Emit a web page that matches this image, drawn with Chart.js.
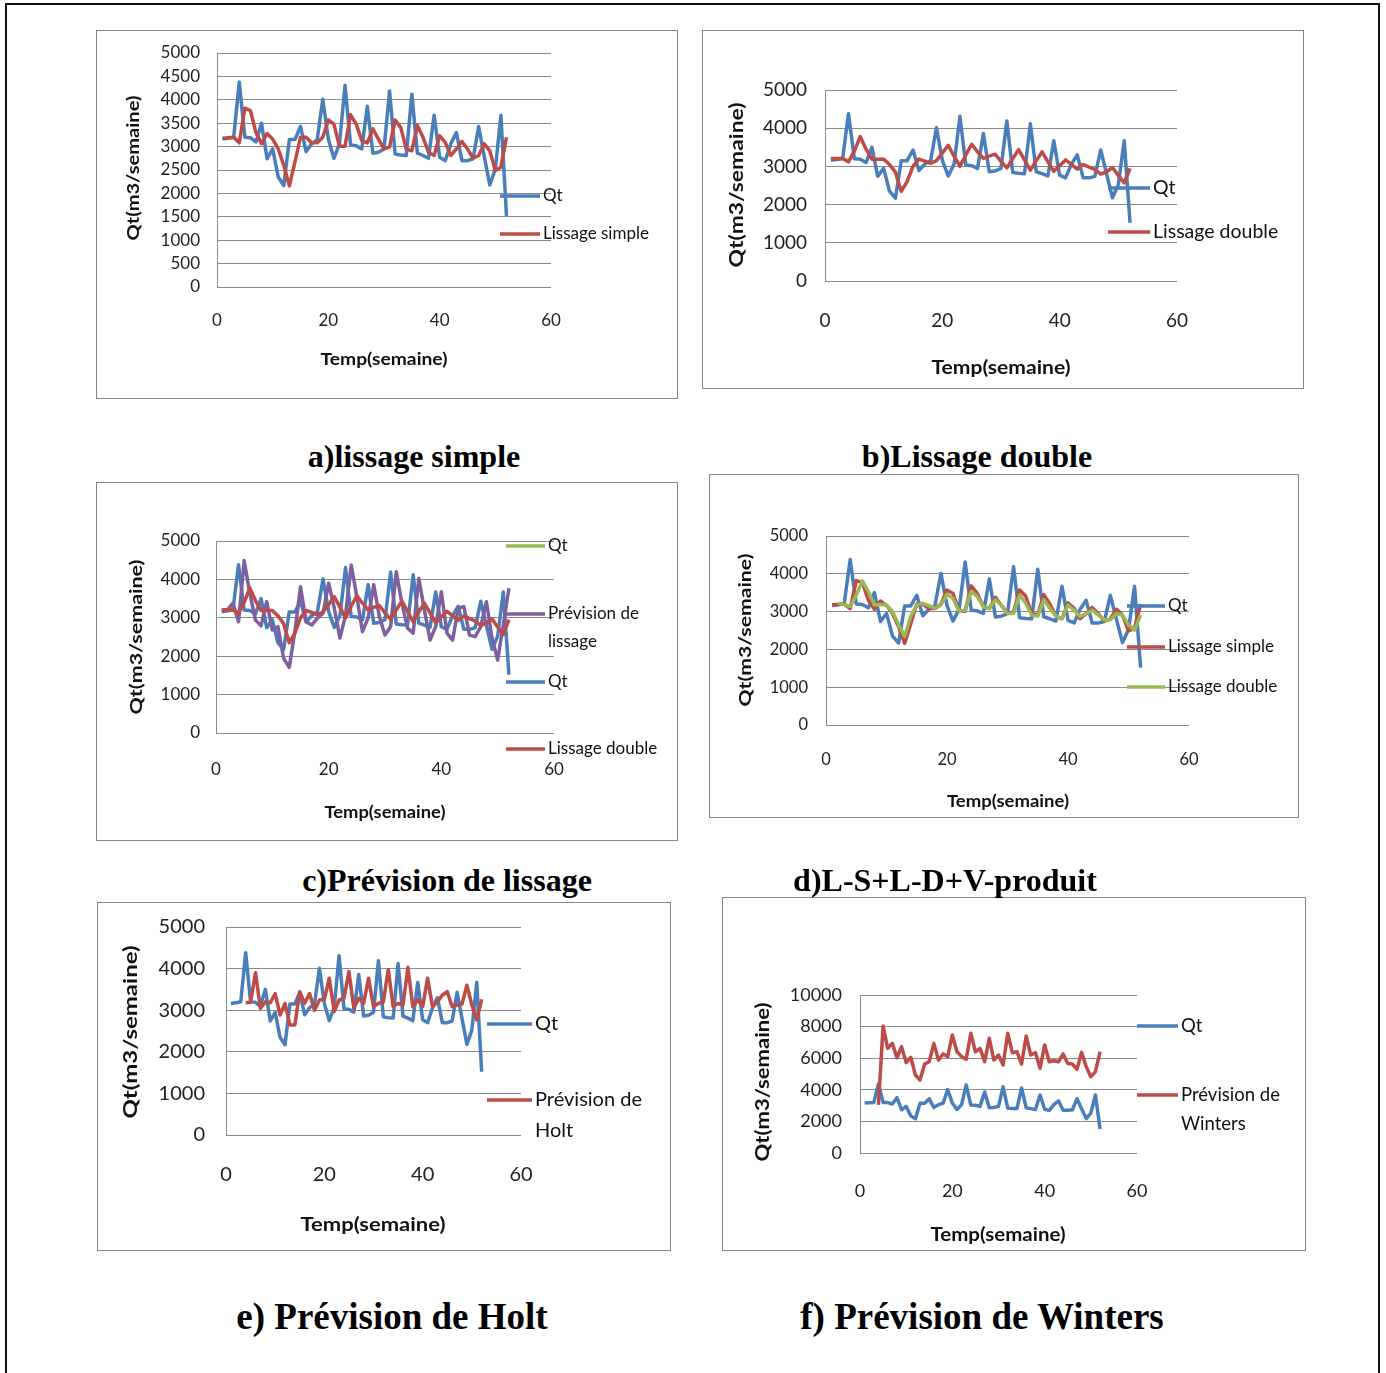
<!DOCTYPE html>
<html lang="fr">
<head>
<meta charset="UTF-8">
<title>Prévisions Qt</title>
<script src="https://cdn.jsdelivr.net/npm/chart.js"></script>
<style>
  body { margin:0; background:#fff; width:1386px; height:1373px; position:relative; overflow:hidden; font-family:Lato, sans-serif; }
  .frame { position:absolute; left:5px; top:3px; width:1375px; height:1390px; border:2px solid #111; box-sizing:border-box; }
  .panel { position:absolute; outline:1.5px solid #868686; }
  .panel canvas { position:absolute; left:0; top:0; }
  .caption { position:absolute; font-family:"Liberation Serif", "Times New Roman", serif; font-weight:bold; white-space:nowrap; transform:translate(-50%,-50%); color:#000; }
</style>
</head>
<body>
<div class="frame"></div>
<script>
// semaines
const weeks = [1,2,3,4,5,6,7,8,9,10,11,12,13,14,15,16,17,18,19,20,21,22,23,24,25,26,
  27,28,29,30,31,32,33,34,35,36,37,38,39,40,41,42,43,44,45,46,47,48,49,50,51,52];

// Qt (m3/semaine)
const qt = [3160,3180,3200,4380,3200,3190,3100,3500,2740,2950,2350,2170,3150,3150,3430,2890,3060,3150,4010,3160,
  2750,3060,4310,3035,3020,2950,3860,2860,2880,2950,4190,2840,2820,2810,4120,2860,2810,2750,3670,2770,
  2700,3060,3300,2700,2700,2740,3430,2800,2180,2520,3670,1520];

// lissage simple
const lisSimple = [3180,3190,3200,3080,3820,3770,3300,3060,3280,3160,2950,2600,2160,2670,3200,3200,3080,3080,3200,3570,
  3480,3010,3010,3680,3480,3130,3080,3380,3160,2950,2990,3570,3410,2950,2910,3450,3200,2880,2810,3230,
  3090,2810,2950,3110,2950,2750,2810,3060,2910,2490,2560,3200];

// lissage double (b, c)
const lisDouble = [3210,3210,3210,3120,3400,3780,3450,3190,3190,3190,3050,2850,2350,2600,3000,3190,3140,3080,3150,3350,
  3550,3270,3000,3300,3580,3380,3210,3270,3320,3130,2960,3200,3440,3170,2900,3150,3380,3120,2870,3020,
  3170,3050,2930,3050,2980,2920,2800,2860,2970,2760,2570,2950];

// lissage double (d)
const lisDoubleD = [null,3220,3190,3130,3440,3810,3530,3175,3190,3175,3000,2650,2340,2870,3175,3220,3160,3090,3175,3455,
  3350,3000,3040,3530,3400,3130,3090,3310,3175,2950,2950,3440,3220,2910,2880,3310,3090,2880,2820,3175,
  3040,2870,2950,3040,2910,2780,2780,2950,2910,2650,2510,2910];

// prévision de lissage (c)
const prevLissage = [null,3200,3380,2900,4490,3640,2940,2790,3420,2680,2770,1945,1710,2640,3810,2900,2810,2990,3120,3900,
  3250,2470,3070,4375,3550,2640,2990,3860,3030,2550,2770,4200,3380,2730,2600,4030,3200,2420,2770,3680,
  2600,2420,3250,3290,2550,2510,2770,3420,2470,1900,2810,3770];

// prévision de Holt (e)
const prevHolt = [null,null,null,3180,3190,3900,3045,3200,3180,3400,2885,3165,2645,2645,3445,3165,3400,3000,3245,3260,
  3770,2970,3245,3285,3930,3045,3285,3165,3770,3085,3165,3200,3980,3085,3165,3125,4030,3085,3245,3085,
  3770,3085,3200,3365,3445,3085,3125,3150,3600,3125,2765,3260];

// prévision de Winters (f)
const prevWinters = [null,null,null,3050,8040,6620,6940,6030,6730,5720,6050,4940,4620,5630,5780,6940,5880,6270,6100,7470,
  6410,6100,5930,7580,6410,6620,5780,7260,5880,6200,5570,7580,6350,6410,5630,7400,6200,6350,5360,6840,
  5780,5840,5780,6270,5670,5630,5300,6370,5460,4830,5150,6410];

const BLUE = '#4a7ebb', RED = '#be4b48', GREEN = '#98b954', PURPLE = '#7d60a0';

function series(label, values, color, order) {
  return {
    label, order,
    data: values ? weeks.map((w, i) => ({ x: w, y: values[i] })) : [],
    borderColor: color, backgroundColor: color,
    borderWidth: 3.5, pointRadius: 0, tension: 0, fill: false,
    borderJoinStyle: 'round'
  };
}

// text stretched to a given length (the original figure is scaled)
function stretchText(ctx, text, x, y, font, len, rotate) {
  ctx.save();
  ctx.translate(x, y);
  if (rotate) ctx.rotate(-Math.PI / 2);
  ctx.font = font;
  ctx.textAlign = 'center';
  ctx.textBaseline = 'middle';
  ctx.scale(len / ctx.measureText(text).width, 1);
  ctx.fillText(text, 0, 0);
  ctx.restore();
}

// legend + axis titles drawn on top
function overlayFor(p) {
  return {
    id: 'overlay',
    afterDraw(chart) {
      const ctx = chart.ctx, ox = p.box[0], oy = p.box[1];
      ctx.save();
      ctx.fillStyle = '#111';
      stretchText(ctx, 'Temp(semaine)', p.xTitle[0] - ox, p.xTitle[1] - oy, 'bold ' + p.titleSize + 'px Lato', p.xTitle[2], false);
      stretchText(ctx, 'Qt(m3/semaine)', p.yTitle[0] - ox, p.yTitle[1] - oy, 'bold ' + p.titleSize + 'px Lato', p.yTitle[2], true);

      ctx.textAlign = 'left';
      ctx.textBaseline = 'middle';
      ctx.font = p.legendSize + 'px Lato';
      p.legend.forEach(e => {
        const ds = chart.data.datasets[e.ds];
        ctx.strokeStyle = ds.borderColor;
        ctx.lineWidth = 3.5;
        ctx.beginPath();
        ctx.moveTo(e.x1 - ox, e.y - oy);
        ctx.lineTo(e.x2 - ox, e.y - oy);
        ctx.stroke();
        const lines = e.lines || [ds.label];
        lines.forEach((t, k) => ctx.fillText(t, e.x2 + 3 - ox, e.y - oy + k * (e.lh || 0)));
      });
      ctx.restore();
    }
  };
}

const panels = [
  { box:[97,31,580,367], plot:[217,53,551,287], ymax:5000, ystep:500, tick:17, yPad:17, xPad:23,
    titleSize:17, xTitle:[384,360,127], yTitle:[134,168,145], legendSize:17,
    datasets:[series('Qt', qt, BLUE, 2), series('Lissage simple', lisSimple, RED, 1)],
    legend:[{ds:0,x1:500,x2:540,y:196},{ds:1,x1:500,x2:540,y:234}] },
  { box:[703,31,600,357], plot:[825,90,1177,281], ymax:5000, ystep:1000, tick:19, yPad:18, xPad:28,
    titleSize:19, xTitle:[1001,368,139], yTitle:[737,185,165], legendSize:19.5,
    datasets:[series('Qt', qt, BLUE, 2), series('Lissage double', lisDouble, RED, 1)],
    legend:[{ds:0,x1:1108,x2:1150,y:188},{ds:1,x1:1108,x2:1150,y:232}] },
  { box:[97,483,580,357], plot:[216,541,554,733], ymax:5000, ystep:1000, tick:17, yPad:16, xPad:26,
    titleSize:17, xTitle:[385,813,121], yTitle:[137,637,155], legendSize:17,
    datasets:[series('Qt', null, GREEN, 4), series('Prévision de lissage', prevLissage, PURPLE, 2),
              series('Qt', qt, BLUE, 3), series('Lissage double', lisDouble, RED, 1)],
    legend:[{ds:0,x1:506,x2:545,y:546},{ds:1,x1:506,x2:545,y:614,lh:28,lines:['Prévision de','lissage']},
            {ds:2,x1:506,x2:545,y:682},{ds:3,x1:506,x2:545,y:749}] },
  { box:[710,475,588,342], plot:[826,536,1189,725], ymax:5000, ystep:1000, tick:16.5, yPad:18, xPad:25,
    titleSize:17, xTitle:[1008,802,122], yTitle:[746,630,153], legendSize:17,
    datasets:[series('Qt', qt, BLUE, 3), series('Lissage simple', lisSimple, RED, 2),
              series('Lissage double', lisDoubleD, GREEN, 1)],
    legend:[{ds:0,x1:1127,x2:1165,y:606},{ds:1,x1:1127,x2:1165,y:647},{ds:2,x1:1127,x2:1165,y:687}] },
  { box:[98,903,572,347], plot:[226,927,521,1135], ymax:5000, ystep:1000, tick:20, yPad:21, xPad:28,
    titleSize:19, xTitle:[373,1225,145], yTitle:[131,1032,173], legendSize:20,
    datasets:[series('Qt', qt, BLUE, 2), series('Prévision de Holt', prevHolt, RED, 1)],
    legend:[{ds:0,x1:487,x2:532,y:1024},{ds:1,x1:487,x2:532,y:1100,lh:31,lines:['Prévision de','Holt']}] },
  { box:[723,898,582,352], plot:[860,995,1137,1153], ymax:10000, ystep:2000, tick:18, yPad:18, xPad:27,
    titleSize:18, xTitle:[998,1235,135], yTitle:[763,1082,159], legendSize:18.5,
    datasets:[series('Qt', qt, BLUE, 2), series('Prévision de Winters', prevWinters, RED, 1)],
    legend:[{ds:0,x1:1137,x2:1178,y:1026},{ds:1,x1:1137,x2:1178,y:1095,lh:29,lines:['Prévision de','Winters']}] }
];

const captions = [
  ['a)lissage simple', 414, 456, 32], ['b)Lissage double', 977, 456, 32],
  ['c)Prévision de lissage', 447, 880, 32], ['d)L-S+L-D+V-produit', 945, 880, 32],
  ['e) Prévision de Holt', 392, 1316, 37], ['f) Prévision de Winters', 982, 1316, 37]
];

function makePanel(p) {
  const [ox, oy, w, h] = p.box;
  const [pl, pt, pr, pb] = p.plot;
  const div = document.createElement('div');
  div.className = 'panel';
  Object.assign(div.style, { left: ox + 'px', top: oy + 'px', width: w + 'px', height: h + 'px' });
  const cv = document.createElement('canvas');
  cv.width = w; cv.height = h;
  div.appendChild(cv);
  document.body.appendChild(div);

  const tickFont = { family: 'Lato', size: p.tick };
  new Chart(cv.getContext('2d'), {
    type: 'line',
    data: { datasets: p.datasets },
    options: {
      responsive: false,
      animation: false,
      layout: { padding: { left: 0, top: pt - oy, right: ox + w - pr, bottom: 0 } },
      plugins: { legend: { display: false }, tooltip: { enabled: false } },
      scales: {
        x: {
          type: 'linear', min: 0, max: 60,
          ticks: { stepSize: 20, padding: p.xPad, font: tickFont, color: '#222', maxRotation: 0,
                   callback: v => String(v) },
          grid: { display: false, drawTicks: false },
          border: { display: false },
          afterFit: s => { s.height = oy + h - pb; }
        },
        y: {
          min: 0, max: p.ymax,
          ticks: { stepSize: p.ystep, padding: p.yPad, font: tickFont, color: '#222', autoSkip: false,
                   callback: v => String(v) },
          grid: { color: '#8a8a8a', lineWidth: 1, drawTicks: false },
          border: { display: true, color: '#8a8a8a', width: 1 },
          afterFit: s => { s.width = pl - ox; s.paddingTop = 0; s.paddingBottom = 0; }
        }
      }
    },
    plugins: [overlayFor(p)]
  });
}

panels.forEach(makePanel);

captions.forEach(([t, x, y, s]) => {
  const d = document.createElement('div');
  d.className = 'caption';
  d.textContent = t;
  Object.assign(d.style, { left: x + 'px', top: y + 'px', fontSize: s + 'px' });
  document.body.appendChild(d);
});
</script>
</body>
</html>
